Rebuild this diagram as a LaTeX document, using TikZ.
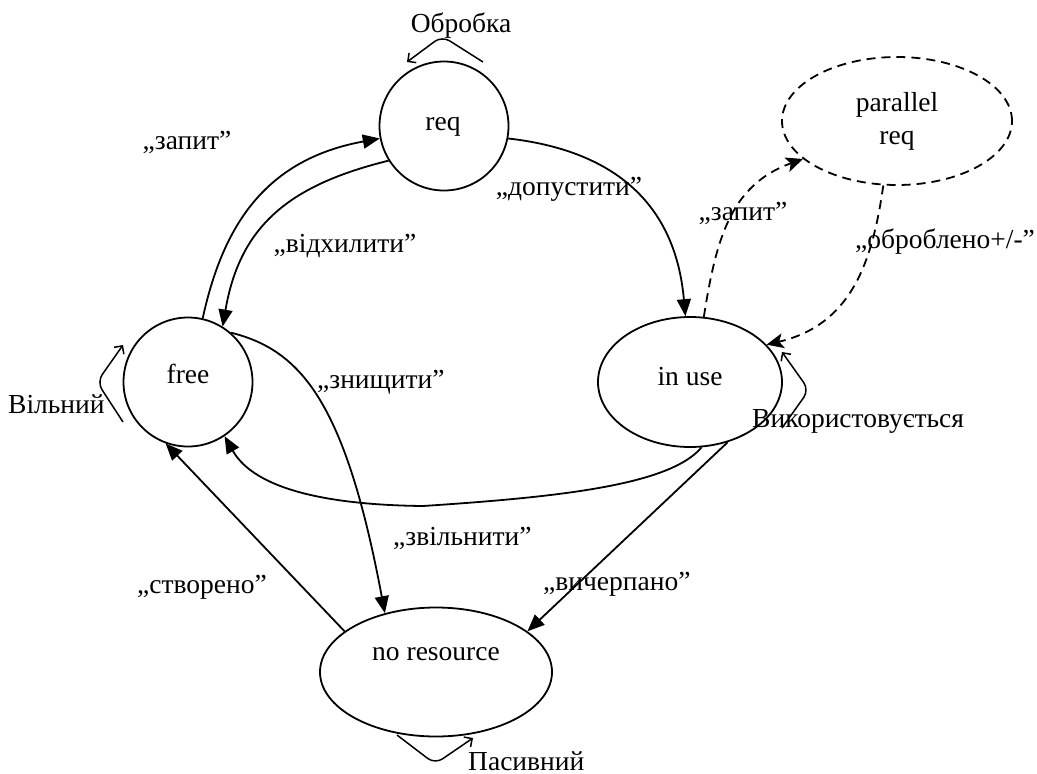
\documentclass[tikz,border=0pt]{standalone}
\usepackage{fontspec}
\setmainfont{Liberation Serif}
\usetikzlibrary{arrows.meta,shapes.geometric}
\begin{document}
\begin{tikzpicture}[x=1pt,y=-1pt,
  every node/.style={font=\fontsize{27.5}{33}\selectfont},
  state/.style={draw, line width=1.8pt, inner sep=0pt},
  circ/.style={state, circle, minimum size=129pt},
  ell/.style={state, ellipse},
  txt/.style={anchor=base, inner sep=0pt},
  txtw/.style={anchor=base west, inner sep=0pt},
  edge/.style={line width=1.8pt, -{Triangle[length=17pt,width=14pt]}},
  dedge/.style={line width=1.8pt, dash pattern=on 9pt off 6pt, -{Stealth[length=17pt,width=15pt,inset=4pt]}},
  loopedge/.style={line width=1.5pt, rounded corners=9pt, -{Straight Barb[length=6pt,width=12pt]}}
]
\useasboundingbox (0,0) rectangle (1037,774);

% states
\node[circ] (req) at (444,126) {};
\node[circ] (free) at (188,382) {};
\node[ell, minimum width=184pt, minimum height=130pt] (inuse) at (690,382) {};
\node[ell, minimum width=232pt, minimum height=129pt] (nores) at (436,672) {};
\node[ell, dash pattern=on 9pt off 6pt, align=center, minimum width=230pt, minimum height=128pt] (preq) at (897,121) {parallel\\req};

% state texts
\node[txt] (reqt) at (443,130) {req};
\node[txt] (freet) at (188,383) {free};
\node[txt] (inuset) at (690,385) {in use};
\node[txt] (norest) at (436,660) {no resource};

% transitions
\draw[edge] (free.77) .. controls (222,230) and (262,160) .. (req.191);
\draw[edge] (req.212) .. controls (290,185) and (240,225) .. (free.58);
\draw[edge] (req.-11) .. controls (610,150) and (675,200) .. (inuse.94);
\draw[dedge] (inuse.78) .. controls (716,240) and (730,185) .. (preq.202);
\draw[dedge] (preq.258) .. controls (872,265) and (850,325) .. (inuse.26);
\draw[edge] (inuse.-80) .. controls (670,485) and (560,497) .. (423,506)
                       .. controls (330,505) and (255,490) .. (free.-56);
\draw[edge] (free.49) .. controls (300,350) and (345,400) .. (nores.131);
\draw[edge] (inuse.-58) -- (nores.24);
\draw[edge] (nores.156) -- (free.-110);

% self loops
\coordinate (oa) at (483,62);
\coordinate (ob) at (407,62);
\draw[loopedge] (oa) -- (442,36) -- (ob);
\coordinate (va) at (123,422);
\coordinate (vb) at (123,345);
\draw[loopedge] (va) -- (97,382) -- (vb);
\coordinate (ua) at (782,428);
\coordinate (ub) at (782,352);
\draw[loopedge] (ua) -- (809,390) -- (ub);
\coordinate (pa) at (397,735);
\coordinate (pb) at (473,738);
\draw[loopedge] (pa) -- (435,764) -- (pb);

% labels
\node[txt] (l1) at (461,32) {Обробка};
\node[txt] (l2) at (187,149) {„запит”};
\node[txt] (l3) at (345,252) {„відхилити”};
\node[txt] (l4) at (569,195) {„допустити”};
\node[txt] (l5) at (743,220) {„запит”};
\node[txtw] (l6) at (855,248) {„оброблено+/-”};
\node[txtw] (l7) at (317,388) {„знищити”};
\node[txtw] (l8) at (8,413) {Вільний};
\node[txtw] (l9) at (752,427) {Використовується};
\node[txtw] (l10) at (393,545) {„звільнити”};
\node[txtw] (l11) at (137,593) {„створено”};
\node[txtw] (l12) at (543,590) {„вичерпано”};
\node[txtw] (l13) at (468,770) {Пасивний};
\end{tikzpicture}
\end{document}
